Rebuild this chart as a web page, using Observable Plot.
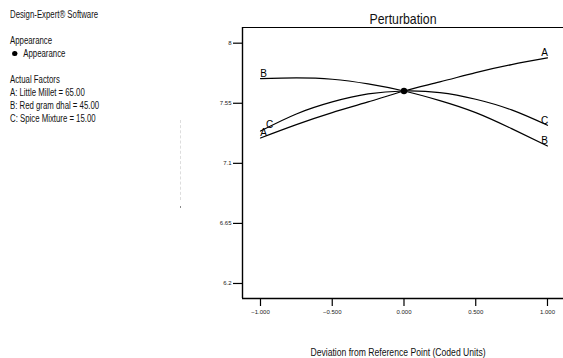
<!DOCTYPE html>
<html>
<head>
<meta charset="utf-8">
<script src="https://cdn.jsdelivr.net/npm/d3@7"></script>
<script src="https://cdn.jsdelivr.net/npm/@observablehq/plot@0.6"></script>
<style>
  html, body { margin: 0; padding: 0; background: #fff; }
  #wrap { position: relative; width: 563px; height: 358px; overflow: hidden; font-family: "Liberation Sans", Arial, sans-serif; color: #000; }
  #wrap svg { position: absolute; left: 0; top: 0; }
  .t { position: absolute; white-space: nowrap; transform-origin: 0 50%; transform: translateY(-50%) scaleX(0.78); font-size: 10px; line-height: 1; color: #111; }
  .c { transform-origin: 50% 50%; transform: translate(-50%, -50%) scaleX(0.82); }
  .bullet { display: inline-block; width: 6.5px; height: 5.5px; border-radius: 50%; background: #000; margin-right: 8px; vertical-align: 1px; }
  #dots { position: absolute; left: 180px; top: 120px; height: 80px; border-left: 1px dashed #ddd; }
  #dot { position: absolute; left: 180px; top: 206px; width: 1px; height: 2px; background: #888; }
</style>
</head>
<body>
<div id="wrap"></div>
<script>
// ---- data ----
const xPositions = [-1, -0.75, -0.5, -0.25, 0, 0.25, 0.5, 0.75, 1];
const factorA = [7.29, 7.39, 7.48, 7.56, 7.642, 7.71, 7.78, 7.84, 7.89];
const factorB = [7.735, 7.74, 7.73, 7.695, 7.642, 7.57, 7.48, 7.36, 7.23];
const factorC = [7.342, 7.47, 7.56, 7.62, 7.642, 7.63, 7.58, 7.50, 7.385];
const factorNames = ["A", "B", "C"];
const referencePoint = {x: 0, y: 7.642};
const xTicks = [-1, -0.5, 0, 0.5, 1];
const yTicks = [6.2, 6.65, 7.1, 7.55, 8];
const yTickLabels = ["6.2", "6.65", "7.1", "7.55", "8"];
const titleText = "Perturbation";
const xLabel = "Deviation from Reference Point (Coded Units)";
const sideLines = ["Design-Expert® Software", "Appearance", "Appearance", "Actual Factors",
  "A: Little Millet = 65.00", "B: Red gram dhal = 45.00", "C: Spice Mixture = 15.00"];

const seriesVals = {A: factorA, B: factorB, C: factorC};
const rows = factorNames.flatMap(f => xPositions.map((x, i) => ({factor: f, x, y: seriesVals[f][i]})));
const ends = (f, side) => {
  const i = side === "left" ? 0 : xPositions.length - 1;
  return {factor: f, x: xPositions[i], y: seriesVals[f][i]};
};

const FONT = "Liberation Sans, Arial, sans-serif";
const txt = {fontFamily: FONT, fontSize: 10, fill: "#000", textAnchor: "middle", lineAnchor: "bottom"};

const chart = Plot.plot({
  width: 563,
  height: 358,
  marginLeft: 242,
  marginRight: 0,
  marginTop: 27,
  marginBottom: 60,
  style: {fontFamily: FONT, fontSize: "6px", color: "#000", background: "transparent", overflow: "visible"},
  x: {domain: [-1.1254, 1.1116]},
  y: {domain: [6.0875, 8.1175]},
  marks: [
    Plot.frame({stroke: "#000", strokeWidth: 1}),
    Plot.axisY(yTicks, {tickSize: 9, tickPadding: 2, tickFormat: (d) => yTickLabels[yTicks.indexOf(d)], label: null, stroke: "#000", strokeWidth: 1.2, fill: "#222"}),
    Plot.axisX(xTicks, {tickSize: 8, tickPadding: 3, tickFormat: d3.format(".3f"), label: null, stroke: "#000", strokeWidth: 1.2, fill: "#222"}),
    Plot.ruleX([0], {x: () => -1.1254, stroke: "#000", strokeWidth: 1.4}),
    Plot.ruleY([0], {y: () => 6.0875, stroke: "#000", strokeWidth: 1.4}),
    Plot.line(rows, {x: "x", y: "y", z: "factor", curve: "natural", stroke: "#000", strokeWidth: 1.2}),
    Plot.dot([referencePoint], {x: "x", y: "y", r: 3.2, fill: "#000"}),
    // labels at the right ends
    Plot.text(factorNames.map(f => ends(f, "right")), {x: "x", y: "y", text: "factor", dx: -3, dy: -1.5, ...txt}),
    // labels at the left ends
    Plot.text([ends("A", "left"), ends("B", "left")], {x: "x", y: "y", text: "factor", dx: 3, dy: -1.5, ...txt}),
    Plot.text([ends("C", "left")], {x: "x", y: "y", text: "factor", dx: 9, dy: -3, ...txt})
  ]
});

const wrap = document.getElementById("wrap");
wrap.appendChild(chart);

function addText(str, left, top, cls, size) {
  const d = document.createElement("div");
  d.className = "t" + (cls ? " " + cls : "");
  d.style.left = left + "px";
  d.style.top = top + "px";
  if (size) d.style.fontSize = size + "px";
  d.textContent = str;
  wrap.appendChild(d);
  return d;
}
addText(titleText, 403, 18, "c", 15);
addText(xLabel, 398, 352, "c", 10.5);
const sideY = [15, 41, 54, 80, 93, 106, 118.5];
sideLines.forEach((s, i) => {
  if (i === 2) {
    const d = addText("", 11.5, sideY[i]);
    const b = document.createElement("span");
    b.className = "bullet";
    d.appendChild(b);
    d.appendChild(document.createTextNode(s));
  } else {
    addText(s, 10, sideY[i]);
  }
});
const dots = document.createElement("div"); dots.id = "dots"; wrap.appendChild(dots);
const dot = document.createElement("div"); dot.id = "dot"; wrap.appendChild(dot);
</script>
</body>
</html>
